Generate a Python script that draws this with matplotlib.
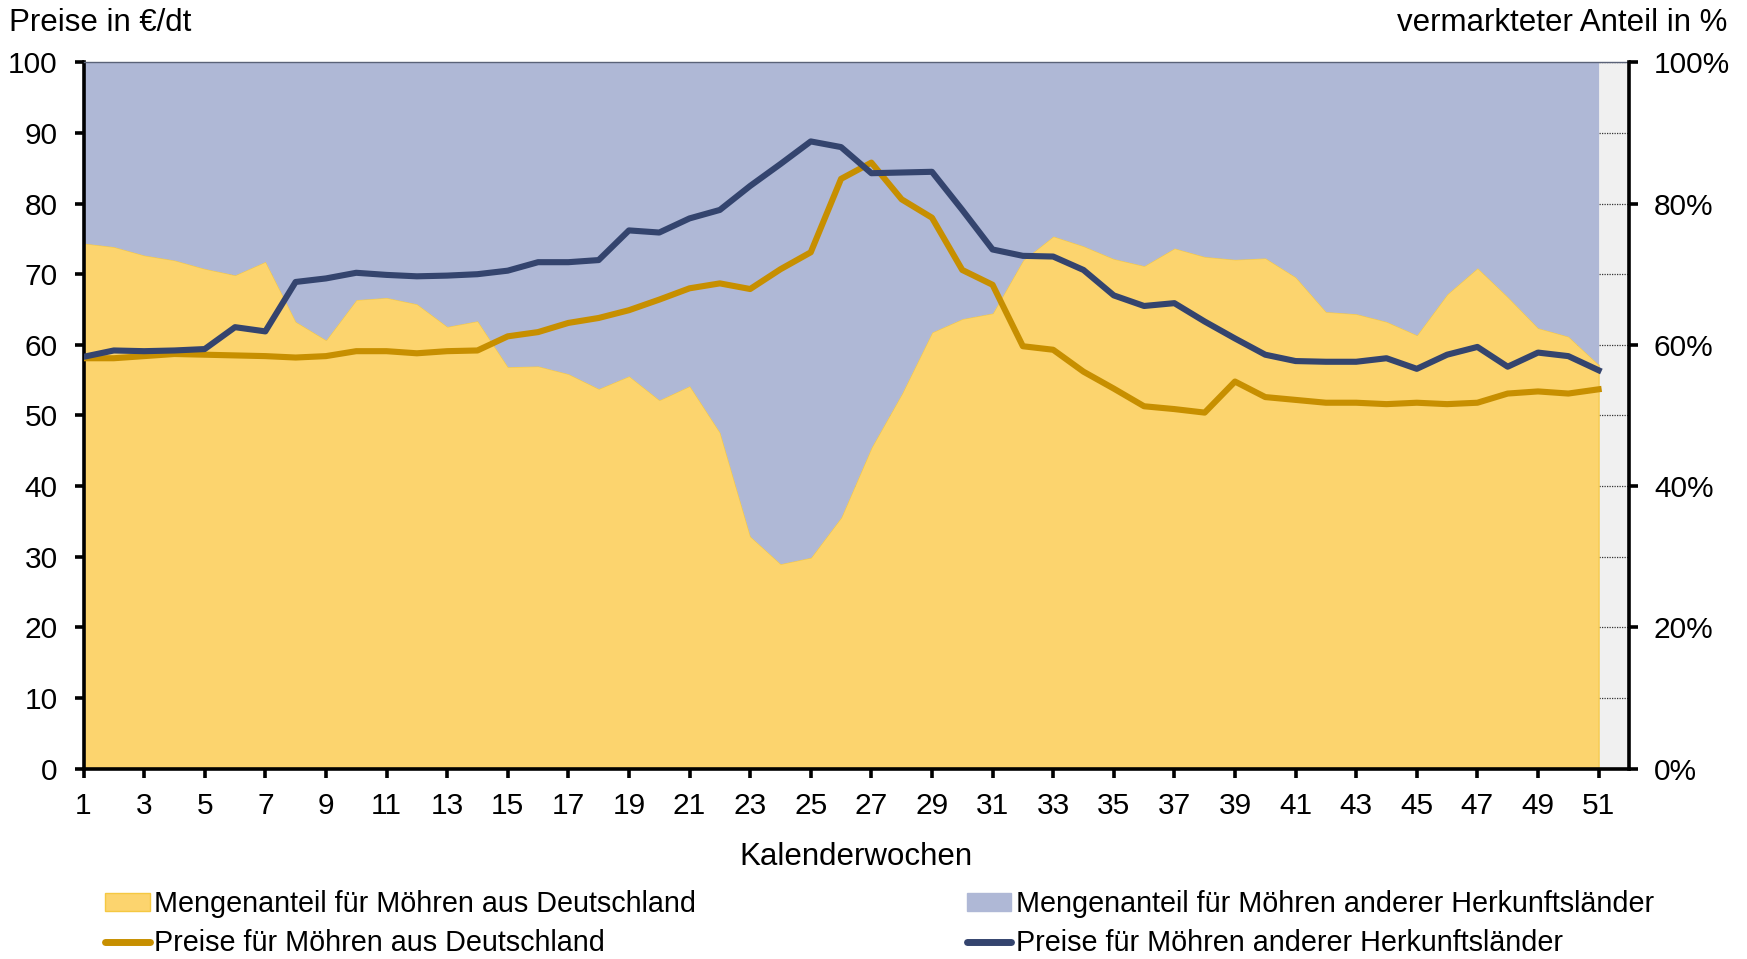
import numpy as np
import matplotlib
matplotlib.use("Agg")
import matplotlib.pyplot as plt
from matplotlib.patches import Patch
from matplotlib.lines import Line2D

plt.rcParams['font.family'] = ['Liberation Sans', 'DejaVu Sans']

# Kalenderwochen
weeks = np.arange(1, 52)

# Mengenanteil Deutschland in % (Rest = andere Herkunftslaender)
share_de = [74.4, 73.9, 72.7, 72.0, 70.8, 69.9, 71.8, 63.3, 60.7, 66.4,
            66.7, 65.8, 62.6, 63.4, 56.9, 57.0, 55.9, 53.8, 55.6, 52.2,
            54.2, 47.6, 32.9, 29.0, 29.9, 35.6, 45.5, 53.1, 61.8, 63.7,
            64.5, 72.0, 75.4, 74.0, 72.2, 71.2, 73.7, 72.5, 72.1, 72.3,
            69.6, 64.7, 64.4, 63.3, 61.4, 67.2, 70.9, 66.8, 62.4, 61.2, 57.2]

# Preise in EUR/dt
price_de = [58.1, 58.1, 58.4, 58.7, 58.6, 58.5, 58.4, 58.2, 58.4, 59.1,
            59.1, 58.8, 59.1, 59.2, 61.2, 61.8, 63.1, 63.8, 64.9, 66.4,
            68.0, 68.7, 67.9, 70.7, 73.1, 83.5, 85.8, 80.6, 78.0, 70.6,
            68.5, 59.8, 59.3, 56.2, 53.8, 51.3, 50.9, 50.4, 54.8, 52.6,
            52.2, 51.8, 51.8, 51.6, 51.8, 51.6, 51.8, 53.1, 53.4, 53.1, 53.7]

price_other = [58.3, 59.2, 59.1, 59.2, 59.4, 62.5, 61.9, 68.9, 69.4, 70.2,
               69.9, 69.7, 69.8, 70.0, 70.5, 71.7, 71.7, 72.0, 76.2, 75.9,
               77.9, 79.1, 82.5, 85.6, 88.8, 88.0, 84.3, 84.4, 84.5, 79.1,
               73.5, 72.6, 72.5, 70.6, 67.0, 65.5, 65.9, 63.3, 60.9, 58.6,
               57.7, 57.6, 57.6, 58.1, 56.6, 58.6, 59.7, 56.9, 58.9, 58.4, 56.4]

labels = ["Mengenanteil für Möhren aus Deutschland",
          "Mengenanteil für Möhren anderer Herkunftsländer",
          "Preise für Möhren aus Deutschland",
          "Preise für Möhren anderer Herkunftsländer"]

c_yellow = '#FCD46E'
c_blue = '#AFB8D6'
c_gold = '#C78F00'
c_navy = '#34446E'

fs_tick = 21.5
fs_title = 22.5
fs_leg = 20.7

fig = plt.figure(figsize=(17.47, 9.59), dpi=100)
ax = fig.add_axes([0.0478, 0.1986, 0.8846, 0.7364])
ax.set_facecolor('#F0F0F0')

share_de = np.array(share_de)
ax.fill_between(weeks, 0, share_de, color=c_yellow, edgecolor='#F5C842', linewidth=0.8, zorder=1)
ax.fill_between(weeks, share_de, 100, color=c_blue, linewidth=0, zorder=1)

ax.plot(weeks, price_de, color=c_gold, linewidth=4.4, zorder=3)
ax.plot(weeks, price_other, color=c_navy, linewidth=4.4, zorder=4)

ax.set_xlim(1, 52)
ax.set_ylim(0, 100)
ax.set_xticks(np.arange(1, 52, 2))
ax.set_yticks(np.arange(0, 101, 10))
ax.yaxis.grid(True, linestyle=(0, (1, 1)), color='#333333', linewidth=0.9)
ax.set_axisbelow(True)

for s in ['left', 'bottom']:
    ax.spines[s].set_linewidth(2.6)
    ax.spines[s].set_color('black')
ax.spines['top'].set_linewidth(1.0)
ax.spines['top'].set_color('#5A6278')
ax.spines['right'].set_visible(False)
ax.tick_params(axis='both', direction='out', length=6.5, width=2.6, labelsize=fs_tick)
ax.tick_params(axis='x', pad=10.5)
ax.tick_params(axis='y', pad=12)

ax2 = ax.twinx()
ax2.set_ylim(0, 100)
ax2.set_yticks(np.arange(0, 101, 20))
ax2.set_yticklabels(["%d%%" % v for v in range(0, 101, 20)])
for s in ['left', 'bottom', 'top']:
    ax2.spines[s].set_visible(False)
ax2.spines['right'].set_linewidth(2.6)
ax2.tick_params(axis='y', direction='out', length=6.5, width=2.6, labelsize=fs_tick, pad=11.5)

fig.text(0.005, 0.976, "Preise in €/dt", fontsize=fs_title, ha='left', va='center')
fig.text(0.989, 0.976, "vermarkteter Anteil in %", fontsize=fs_title, ha='right', va='center')
fig.text(0.4902, 0.106, "Kalenderwochen", fontsize=fs_title, ha='center', va='center')

h_yellow = Patch(facecolor=c_yellow, edgecolor='#F5C842')
h_blue = Patch(facecolor=c_blue, edgecolor=c_blue)
h_gold = Line2D([], [], color=c_gold, linewidth=5, solid_capstyle='round')
h_navy = Line2D([], [], color=c_navy, linewidth=5, solid_capstyle='round')

leg_kw = dict(loc='center left', frameon=False, fontsize=fs_leg, handlelength=1.55,
              handleheight=0.55, handletextpad=0.16, labelspacing=0.38,
              borderpad=0, borderaxespad=0)
fig.legend([h_yellow, h_gold], [labels[0], labels[2]], bbox_to_anchor=(0.0601, 0.037), **leg_kw)
fig.legend([h_blue, h_navy], [labels[1], labels[3]], bbox_to_anchor=(0.5533, 0.037), **leg_kw)

fig.savefig("out.png", dpi=100)
